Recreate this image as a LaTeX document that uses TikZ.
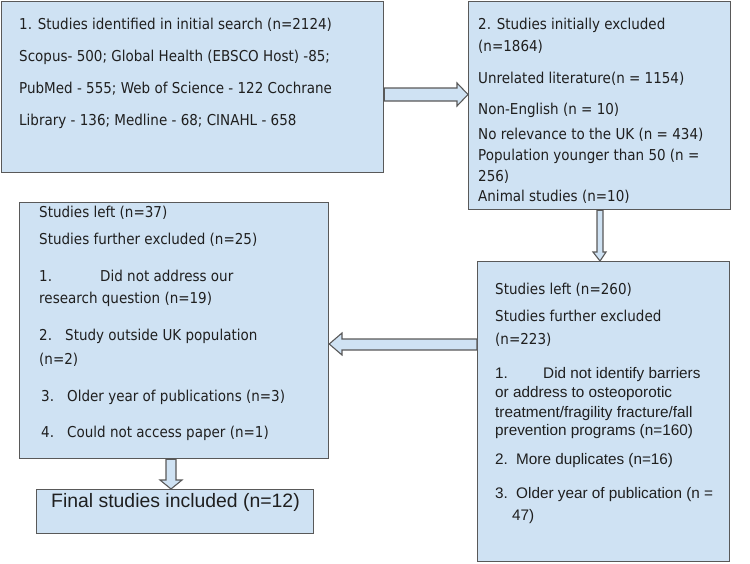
\documentclass[tikz,border=0pt]{standalone}
\usepackage{fontspec}
\newfontfamily\tah[FakeStretch=0.9]{DejaVu Sans}
\newfontfamily\ari{Liberation Sans}
\definecolor{boxfill}{HTML}{CFE2F3}
\definecolor{boxline}{HTML}{595959}
\definecolor{txt}{HTML}{1F1F1F}
\begin{document}
\begin{tikzpicture}[x=1pt,y=-1pt,
  box/.style={draw=boxline,fill=boxfill,line width=1.2pt,rectangle,inner sep=0pt,anchor=north west},
  barrow/.style={draw=boxline,fill=boxfill,line width=1.1pt,line join=miter},
  tt/.style={anchor=base west,inner sep=0pt,text=txt,font=\tah\fontsize{15}{18}\selectfont},
  ta/.style={anchor=base west,inner sep=0pt,text=txt,font=\ari\fontsize{15.3}{18}\selectfont},
  tf/.style={anchor=base west,inner sep=0pt,text=txt,font=\ari\fontsize{19.4}{22}\selectfont}]
\useasboundingbox (0,0) rectangle (750,563);
% boxes
\node[box,minimum width=382pt,minimum height=171pt] (b1) at (1,1) {};
\node[box,minimum width=262pt,minimum height=208pt] (b2) at (468,1) {};
\node[box,minimum width=309pt,minimum height=256pt] (b3) at (19,202) {};
\node[box,minimum width=252pt,minimum height=300pt] (b4) at (477,261) {};
\node[box,minimum width=277pt,minimum height=44pt] (b5) at (36,489) {};
% block arrows
\draw[barrow] (b1.east |- 0,88) -- (457,88) -- (457,83) -- (b2.west |- 0,94.5)
  -- (457,106) -- (457,101) -- (b1.east |- 0,101) -- cycle;
\draw[barrow] (b2.south -| 597,0) -- (597,252) -- (593,252) -- (b4.north -| 600,0)
  -- (606,252) -- (603,252) -- (b2.south -| 603,0) -- cycle;
\draw[barrow] (b4.west |- 0,339) -- (342,339) -- (342,333) -- (b3.east |- 0,344)
  -- (342,355) -- (342,350) -- (b4.west |- 0,350) -- cycle;
\draw[barrow] (b3.south -| 166,0) -- (166,480) -- (160,480) -- (b5.north -| 171,0)
  -- (182,480) -- (176,480) -- (b3.south -| 176,0) -- cycle;
% box 1 text
\node[tt] (l11) at (19,29) {1. Studies identified in initial search (n=2124)};
\node[tt] (l12) at (19,61) {Scopus- 500; Global Health (EBSCO Host) -85;};
\node[tt] (l13) at (19,93) {PubMed - 555; Web of Science - 122 Cochrane};
\node[tt] (l14) at (19,125) {Library - 136; Medline - 68; CINAHL - 658};
% box 2 text
\node[tt] (l21) at (478,29) {2. Studies initially excluded};
\node[tt] (l22) at (478,51) {(n=1864)};
\node[tt] (l23) at (478,83) {Unrelated literature(n = 1154)};
\node[tt] (l24) at (478,114) {Non-English (n = 10)};
\node[tt] (l25) at (478,139) {No relevance to the UK (n = 434)};
\node[tt] (l26) at (478,160) {Population younger than 50 (n =};
\node[tt] (l27) at (478,181) {256)};
\node[tt] (l28) at (478,201) {Animal studies (n=10)};
% box 3 text
\node[tt] (l31) at (39,217) {Studies left (n=37)};
\node[tt] (l32) at (39,244) {Studies further excluded (n=25)};
\node[tt] (l33a) at (39,281) {1.};
\node[tt] (l33b) at (100,281) {Did not address our};
\node[tt] (l34) at (39,303) {research question (n=19)};
\node[tt] (l35a) at (39,340) {2.};
\node[tt] (l35b) at (65,340) {Study outside UK population};
\node[tt] (l36) at (39,364) {(n=2)};
\node[tt] (l37a) at (41,401) {3.};
\node[tt] (l37b) at (67,401) {Older year of publications (n=3)};
\node[tt] (l38a) at (41,437) {4.};
\node[tt] (l38b) at (67,437) {Could not access paper (n=1)};
% box 4 text
\node[tt] (l41) at (495,294) {Studies left (n=260)};
\node[tt] (l42) at (495,321) {Studies further excluded};
\node[tt] (l43) at (495,344) {(n=223)};
\node[ta] (l44a) at (495,378.5) {1.};
\node[ta] (l44b) at (543,378.5) {Did not identify barriers};
\node[ta] (l45) at (495,397.5) {or address to osteoporotic};
\node[ta] (l46) at (495,417) {treatment/fragility fracture/fall};
\node[ta] (l47) at (495,435.5) {prevention programs (n=160)};
\node[ta] (l48a) at (495,464.5) {2.};
\node[ta] (l48b) at (516,464.5) {More duplicates (n=16)};
\node[ta] (l49a) at (495,498.5) {3.};
\node[ta] (l49b) at (516,498.5) {Older year of publication (n =};
\node[ta] (l410) at (512,520) {47)};
% final box text
\node[tf] (l51) at (51,507.5) {Final studies included (n=12)};
\end{tikzpicture}
\end{document}
